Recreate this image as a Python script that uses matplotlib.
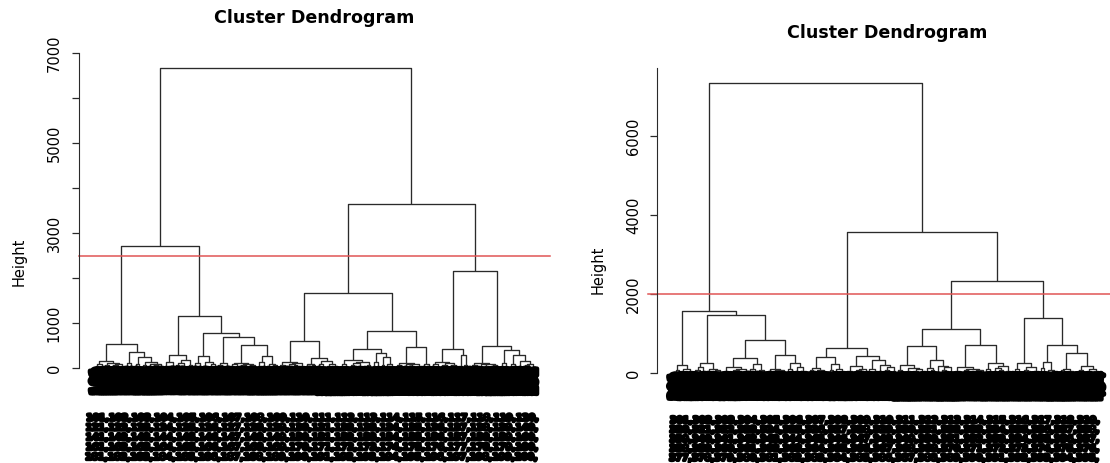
import numpy as np
import matplotlib
matplotlib.use("Agg")
import matplotlib.pyplot as plt
import matplotlib.patheffects as pe

W, H, DPI = 1110, 463, 100

# Merge heights between neighbouring leaves, grouped by low-level cluster.
# The heights in *_joins sit between consecutive clusters.
left_twigs = [
    [40, 90, 30, 150, 60, 20, 110, 45, 70, 25, 95, 35],
    [30, 120, 55, 350, 40, 80, 240, 25, 65, 140, 35, 90, 20, 60, 100, 30],
    [50, 25, 130, 40, 290, 60, 30, 110, 20, 180, 45, 70],
    [40, 110, 30, 270, 55, 25, 140, 35, 80],
    [30, 70, 110, 25, 50],
    [35, 80, 20, 120, 45, 60, 25, 100, 40, 70, 30],
    [40, 130, 30, 270, 50, 90, 25, 60],
    [30, 70, 25, 140, 45, 90, 20, 60, 110, 35, 50],
    [40, 100, 25, 60, 230, 35, 80, 20, 150, 45, 30, 95, 55, 25],
    [30, 90, 45, 180, 25, 70, 120, 35, 55, 20, 140, 40, 65],
    [45, 140, 30, 330, 60, 250, 35, 90, 25],
    [25, 60, 35, 110, 40, 80, 20, 50, 95, 30, 45],
    [30, 80, 45],
    [35, 90, 25, 140, 50, 70, 20, 110, 40, 60, 30],
    [40, 290, 60, 30],
    [30, 75, 40, 120, 25, 90, 50, 20, 100, 35, 65, 45],
    [35, 110, 45, 400, 30, 80, 25, 300, 50, 150, 35, 70, 20, 90],
]
left_joins = [530, 2720, 1160, 785, 700, 510, 6667, 600,
              1660, 415, 815, 470, 3640, 430, 2150, 490]

right_twigs = [
    [30, 80, 210, 45, 25, 120, 40, 60],
    [40, 90, 25, 150, 270, 35, 60, 20, 110, 45, 75, 30],
    [35, 70, 25, 150, 40, 90, 20, 55, 110, 30, 60],
    [30, 100, 45, 230, 25, 80, 40],
    [25, 60, 120, 35, 80, 20, 95, 45],
    [40, 110, 30, 270, 55, 150, 25, 70, 35],
    [30, 75, 130, 40, 20, 90, 50, 25],
    [35, 90, 230, 40, 120, 25, 60],
    [25, 70, 40, 180, 30, 95, 55, 20, 110],
    [40, 120, 30, 70, 340, 45, 200, 25, 90, 35, 150, 60],
    [30, 90, 45, 220, 25, 70, 140, 35, 55, 20, 100, 40],
    [45, 130, 30, 80, 340, 40, 190, 25, 95, 60, 150, 35],
    [30, 65, 25, 160, 45, 90, 20, 110, 40, 70, 30, 55, 85],
    [40, 100, 30, 250, 55, 130, 25, 75, 180, 35, 60, 45],
    [35, 120, 45, 270, 30, 90, 60, 25, 160, 40, 70],
    [40, 130, 280, 30, 95, 25, 60, 45],
    [30, 80, 120, 25, 60, 40, 20],
    [35, 90, 25, 180, 40, 70, 120, 30, 55, 20],
]
right_joins = [1570, 1470, 390, 835, 470, 7360, 410, 640, 440,
               3585, 680, 1130, 710, 2330, 1400, 710, 510]

left_cut = 2500
right_cut = 2000

left_ticks = [0, 1000, 2000, 3000, 4000, 5000, 6000, 7000]
left_ticklabels = ["0", "1000", "", "3000", "", "5000", "", "7000"]
right_ticks = [0, 2000, 4000, 6000]
right_ticklabels = ["0", "2000", "4000", "6000"]

LINE = "#2a2a2a"
CUT = "#e05555"


def leaf_gaps(twigs, joins):
    gaps = []
    for k, twig in enumerate(twigs):
        gaps.extend(twig)
        if k < len(joins):
            gaps.append(joins[k])
    return gaps


def draw_tree(ax, gaps, lo, hi):
    """Draw leaves lo..hi; split at the highest merge between neighbours."""
    if lo == hi:
        return lo + 1, 0.0
    k = lo + int(np.argmax(gaps[lo:hi]))
    h = gaps[k]
    xl, yl = draw_tree(ax, gaps, lo, k)
    xr, yr = draw_tree(ax, gaps, k + 1, hi)
    ax.plot([xl, xl, xr, xr], [yl, h, h, yr], color=LINE, lw=0.95,
            solid_capstyle="butt", clip_on=False)
    return (xl + xr) / 2, h


def px_axes(fig, x0, x1, y_zero, y_top):
    return fig.add_axes([x0 / W, (H - y_zero) / H, (x1 - x0) / W,
                         (y_zero - y_top) / H])


def dendro_panel(fig, twigs, joins, cut, ticks, ticklabels, box, ymax,
                 title_y, ylab_xy, cut_start, label_start):
    x0, x1, y_zero, y_top = box
    ax = px_axes(fig, x0, x1, y_zero, y_top)
    gaps = leaf_gaps(twigs, joins)
    n = len(gaps) + 1
    pad = 0.04 * (n - 1)
    ax.set_xlim(1 - pad, n + pad)
    ax.set_ylim(0, ymax)
    draw_tree(ax, gaps, 0, n - 1)

    ax.axhline(cut, xmin=cut_start, xmax=1, color=CUT, lw=1.1, clip_on=False)

    # leaf labels hang straight down from the baseline
    leaf_labels = [str(label_start + i) for i in range(n)]
    units_per_px = ymax / (y_zero - y_top)
    for i, lab in enumerate(leaf_labels):
        ax.text(i + 1, 1.0 * units_per_px, lab, rotation=90, ha="center",
                va="top", fontsize=10.5, color="black", clip_on=False,
                path_effects=[pe.withStroke(linewidth=3.2, foreground="black")])

    for side in ("top", "right", "bottom"):
        ax.spines[side].set_visible(False)
    ax.spines["left"].set_bounds(0, ymax)
    ax.spines["left"].set_color(LINE)
    ax.set_xticks([])
    ax.set_yticks(ticks, ticklabels)
    ax.tick_params(axis="y", length=5, width=0.9, color=LINE, pad=7,
                   labelsize=10.5, labelrotation=90)
    for t in ax.get_yticklabels():
        t.set_verticalalignment("center")

    cx = (x0 + x1) / 2
    fig.text(cx / W, 1 - title_y / H, "Cluster Dendrogram", ha="center",
             va="center", fontsize=12.6, fontweight="bold")
    fig.text(ylab_xy[0] / W, 1 - ylab_xy[1] / H, "Height", rotation=90,
             ha="center", va="center", fontsize=10.5)
    return ax, leaf_labels


def label_block(fig, labels, cx, y_first, pitch, nlines, per_line):
    # the call's data, deparsed over several lines beneath the leaves
    for k in range(nlines):
        chunk = labels[k * per_line:(k + 1) * per_line]
        txt = ",".join(chunk) + ","
        fig.text(cx / W, 1 - (y_first + k * pitch) / H, txt, ha="center",
                 va="center", fontsize=6.6, fontweight="bold",
                 path_effects=[pe.withStroke(linewidth=2.1, foreground="black")])


fig = plt.figure(figsize=(W / DPI, H / DPI), dpi=DPI)

axL, labL = dendro_panel(fig, left_twigs, left_joins, left_cut, left_ticks,
                         left_ticklabels, (78.6, 550, 368, 53), 7000,
                         18.3, (19.6, 262), 0.0, 101)
axR, labR = dendro_panel(fig, right_twigs, right_joins, right_cut, right_ticks,
                         right_ticklabels, (657.5, 1116.5, 373.3, 68), 7730,
                         33.3, (598.6, 270), -0.02, 301)

label_block(fig, labL, 312, 418, 9.8, 5, 20)
label_block(fig, labR, 884.5, 420.5, 9.4, 5, 19)

fig.savefig("out.png", dpi=DPI)
